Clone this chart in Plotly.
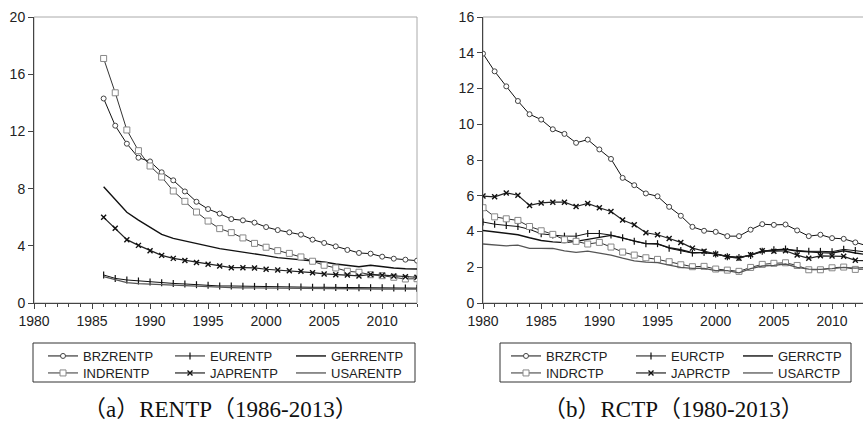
"""RENTP y RCTP por pais: dos paneles estilo EViews con Plotly."""

import plotly.graph_objects as go

W, H = 863, 425

# ---- datos ----
anios_rentp = list(range(1986, 2014))
anios_rctp = list(range(1980, 2014))

brz_rentp = [14.3, 12.4, 11.14, 10.16, 9.9, 9.14, 8.58, 7.8, 7.08, 6.57,
             6.25, 5.87, 5.78, 5.62, 5.31, 5.1, 4.94, 4.78, 4.43, 4.2,
             3.96, 3.71, 3.5, 3.45, 3.24, 3.1, 3.03, 2.96]
eu_rentp = [1.96, 1.72, 1.61, 1.54, 1.47, 1.42, 1.37, 1.33, 1.28, 1.24,
            1.19, 1.19, 1.17, 1.16, 1.15, 1.14, 1.13, 1.12, 1.1, 1.1,
            1.09, 1.08, 1.07, 1.07, 1.06, 1.05, 1.05, 1.04]
ger_rentp = [8.13, 7.25, 6.34, 5.8, 5.27, 4.8, 4.52, 4.34, 4.13, 3.94,
             3.8, 3.68, 3.57, 3.47, 3.31, 3.17, 3.1, 3.03, 2.96, 2.87,
             2.73, 2.61, 2.54, 2.64, 2.52, 2.45, 2.4, 2.38]
ind_rentp = [17.1, 14.7, 12.1, 10.65, 9.58, 8.81, 7.83, 7.11, 6.36, 5.73,
             5.2, 4.92, 4.55, 4.17, 3.9, 3.66, 3.47, 3.22, 2.92, 2.64,
             2.45, 2.22, 2.15, 1.98, 1.91, 1.8, 1.68, 1.7]
jap_rentp = [5.99, 5.22, 4.43, 4.03, 3.66, 3.33, 3.12, 2.98, 2.84, 2.71,
             2.59, 2.47, 2.47, 2.45, 2.36, 2.31, 2.26, 2.22, 2.12, 2.03,
             1.98, 1.96, 1.89, 2.0, 1.94, 1.89, 1.84, 1.8]
usa_rentp = [1.84, 1.62, 1.42, 1.36, 1.32, 1.28, 1.24, 1.2, 1.17, 1.13,
             1.1, 1.08, 1.06, 1.05, 1.04, 1.03, 1.02, 1.0, 0.99, 0.98,
             0.98, 0.98, 0.97, 0.98, 0.98, 0.98, 0.98, 0.98]

brz_rctp = [13.95, 12.96, 12.12, 11.3, 10.56, 10.26, 9.72, 9.46, 8.96, 9.14,
            8.59, 8.06, 7.0, 6.59, 6.13, 5.97, 5.38, 4.88, 4.26, 4.04,
            3.98, 3.74, 3.74, 4.1, 4.41, 4.37, 4.39, 4.06, 3.74, 3.82,
            3.63, 3.59, 3.39, 3.2]
eu_rctp = [4.53, 4.41, 4.34, 4.28, 4.12, 3.87, 3.8, 3.74, 3.74, 3.89,
           3.89, 3.8, 3.65, 3.45, 3.32, 3.32, 3.06, 2.94, 2.79, 2.83,
           2.74, 2.59, 2.55, 2.66, 2.9, 2.98, 3.02, 2.94, 2.89, 2.89,
           2.87, 3.0, 2.94, 2.85]
ger_rctp = [4.06, 3.98, 3.92, 3.82, 3.65, 3.5, 3.42, 3.38, 3.45, 3.58,
            3.67, 3.78, 3.62, 3.45, 3.32, 3.3, 3.1, 2.98, 2.82, 2.82,
            2.75, 2.6, 2.55, 2.68, 2.88, 2.95, 3.0, 2.9, 2.85, 2.82,
            2.8, 2.92, 2.8, 2.7]
ind_rctp = [5.33, 4.82, 4.71, 4.62, 4.28, 4.04, 3.84, 3.54, 3.45, 3.3,
            3.39, 3.13, 2.85, 2.68, 2.53, 2.44, 2.31, 2.14, 2.03, 2.05,
            1.9, 1.84, 1.77, 1.99, 2.16, 2.22, 2.25, 2.1, 1.86, 1.86,
            1.97, 2.01, 1.88, 1.9]
jap_rctp = [5.98, 5.94, 6.16, 6.03, 5.46, 5.6, 5.64, 5.64, 5.4, 5.57,
            5.33, 5.12, 4.64, 4.38, 3.93, 3.82, 3.61, 3.39, 3.07, 2.89,
            2.74, 2.59, 2.5, 2.7, 2.92, 2.9, 2.92, 2.68, 2.5, 2.64,
            2.63, 2.61, 2.39, 2.36]
usa_rctp = [3.3, 3.27, 3.2, 3.24, 3.06, 3.06, 3.05, 2.92, 2.83, 2.9,
            2.8, 2.68, 2.51, 2.36, 2.29, 2.26, 2.12, 1.99, 1.94, 1.94,
            1.81, 1.81, 1.69, 1.92, 2.07, 2.1, 2.18, 1.99, 1.9, 1.88,
            1.92, 1.99, 1.95, 2.0]

series_rentp = [('BRZRENTP', brz_rentp), ('EURENTP', eu_rentp), ('GERRENTP', ger_rentp),
                ('INDRENTP', ind_rentp), ('JAPRENTP', jap_rentp), ('USARENTP', usa_rentp)]
series_rctp = [('BRZRCTP', brz_rctp), ('EURCTP', eu_rctp), ('GERRCTP', ger_rctp),
               ('INDRCTP', ind_rctp), ('JAPRCTP', jap_rctp), ('USARCTP', usa_rctp)]

# estilo por pais (mismo orden que las series)
ESTILOS = [
    dict(line=dict(color='#111', width=1),
         marker=dict(symbol='circle', size=5, color='white', line=dict(color='#444', width=1)),
         mode='lines+markers'),
    dict(line=dict(color='#111', width=1),
         marker=dict(symbol='line-ns', size=5, color='#111', line=dict(color='#111', width=1.2)),
         mode='lines+markers'),
    dict(line=dict(color='#111', width=1.4), mode='lines'),
    dict(line=dict(color='#333', width=1),
         marker=dict(symbol='square', size=6, color='white', line=dict(color='#888', width=1)),
         mode='lines+markers'),
    dict(line=dict(color='#222', width=1.2),
         marker=dict(symbol='x-thin', size=5, color='#111', line=dict(color='#111', width=1.4)),
         mode='lines+markers'),
    dict(line=dict(color='#555', width=1.3), mode='lines'),
]

FUENTE = dict(family='Liberation Sans, Arial, sans-serif', size=14, color='#222')


def px_x(v):
    return v / W


def px_y(v):
    return 1 - v / H


fig = go.Figure()

# una leyenda por serie para colocar la rejilla 3x2 igual que EViews
cols_texto = [[85, 212, 333], [548, 673, 780]]
filas_y = [356, 373]
leyendas = {}
n = 0
for panel, (series, anios, xa, ya) in enumerate([(series_rentp, anios_rentp, 'x', 'y'),
                                                 (series_rctp, anios_rctp, 'x2', 'y2')]):
    for i, (nombre, valores) in enumerate(series):
        n += 1
        clave = 'legend' if n == 1 else f'legend{n}'
        leyendas[clave] = dict(x=px_x(cols_texto[panel][i % 3] - 42), y=px_y(filas_y[i // 3]),
                               xanchor='left', yanchor='middle', orientation='v',
                               bgcolor='rgba(0,0,0,0)', borderwidth=0,
                               font=dict(FUENTE, size=13), itemwidth=30, visible=True)
        fig.add_trace(go.Scatter(
            x=anios, y=valores, name=nombre,
            xaxis=xa, yaxis=ya, legend=clave,
            showlegend=True, cliponaxis=True,
            **ESTILOS[i]
        ))

eje_x = dict(showgrid=False, zeroline=False, showline=True, linecolor='#444', linewidth=1,
             ticks='outside', ticklen=5, tickcolor='#444', tickfont=FUENTE, automargin=False,
             tickvals=[1980, 1985, 1990, 1995, 2000, 2005, 2010],
             minor=dict(dtick=1, tick0=1980, ticks='outside', ticklen=3, tickcolor='#444'))
eje_y = dict(showgrid=False, zeroline=False, showline=True, linecolor='#444', linewidth=1,
             ticks='outside', ticklen=5, tickcolor='#444', tickfont=FUENTE, automargin=False)

dom_y = [px_y(303), px_y(17)]

fig.update_layout(
    width=W, height=H,
    margin=dict(l=0, r=0, t=0, b=0),
    paper_bgcolor='white', plot_bgcolor='white',
    showlegend=True,
    xaxis=dict(eje_x, domain=[px_x(34), px_x(417)], range=[1980, 2013], anchor='y'),
    yaxis=dict(eje_y, domain=dom_y, range=[0, 20], dtick=4, anchor='x'),
    xaxis2=dict(eje_x, domain=[px_x(483), 1.0], range=[1980, 2012.66], anchor='y2'),
    yaxis2=dict(eje_y, domain=dom_y, range=[0, 16], dtick=2, anchor='x2'),
    **leyendas
)

# marco gris del area de grafico
fig.add_shape(type='rect', xref='x domain', yref='y domain', x0=0, x1=1, y0=0, y1=1,
              line=dict(color='#aaa', width=1), layer='below')
fig.add_shape(type='rect', xref='x2 domain', yref='y2 domain', x0=0, x1=1.02, y0=0, y1=1,
              line=dict(color='#aaa', width=1), layer='below')

# cajas de leyenda
for x0, x1 in [(33, 415), (500, 851)]:
    fig.add_shape(type='rect', xref='paper', yref='paper',
                  x0=px_x(x0), x1=px_x(x1), y0=px_y(382), y1=px_y(343),
                  line=dict(color='#333', width=1))

# pies de figura
for texto, xc in [('（a）RENTP（1986-2013）', 220), ('（b）RCTP（1980-2013）', 673)]:
    fig.add_annotation(text=texto, x=px_x(xc), y=px_y(409), xref='paper', yref='paper',
                       showarrow=False, xanchor='center', yanchor='middle',
                       font=dict(family='Liberation Serif, Times New Roman, Noto Sans CJK SC',
                                 size=23, color='#111'))

# sin margen del body para que la figura ocupe la ventana exacta
fig.write_html('out.html', config={'displayModeBar': False},
               post_script="document.body.style.margin='0px';")
